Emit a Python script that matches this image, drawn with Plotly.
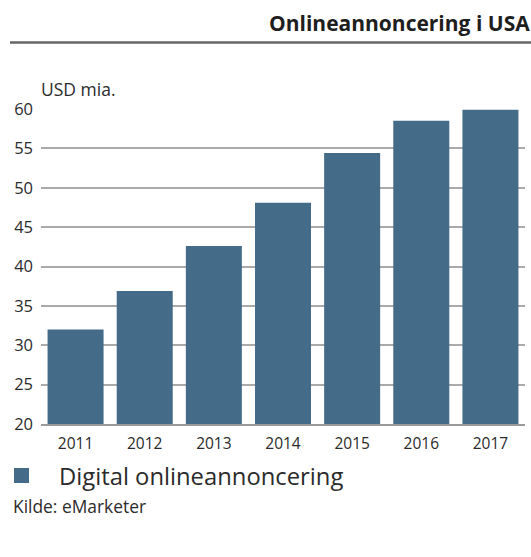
import plotly.graph_objects as go

# Digital onlineannoncering i USA, mia. USD
years = ["2011", "2012", "2013", "2014", "2015", "2016", "2017"]
spend = [32.0, 36.9, 42.6, 48.1, 54.4, 58.5, 59.9]
y_ticks = [20, 25, 30, 35, 40, 45, 50, 55, 60]

bar_color = "#446b88"
text_color = "#2b2b2b"
font_family = "Open Sans, Lato, sans-serif"

W, H = 531, 557
ml, mr, mt, mb = 41, 6, 109, 133

fig = go.Figure()
fig.add_trace(go.Bar(x=years, y=spend, marker=dict(color=bar_color, line=dict(width=0)),
                     showlegend=False))

fig.update_layout(
    width=W, height=H,
    margin=dict(l=ml, r=mr, t=mt, b=mb),
    plot_bgcolor="white", paper_bgcolor="white",
    bargap=0.19,
    font=dict(family=font_family, color=text_color, size=15),
    xaxis=dict(showgrid=False, showline=True, linecolor="#9a9a9a", linewidth=2,
               ticks="", tickfont=dict(size=15.5), ticklabelstandoff=4),
    yaxis=dict(range=[20, 60], tickvals=y_ticks, showgrid=True, gridcolor="#aaaaaa",
               gridwidth=1.5, zeroline=False, showline=False, ticks="",
               tickfont=dict(size=16.5), ticklabelstandoff=7),
)

# helpers: pixel position on the page -> paper coordinates of the plot area
PW, PH = W - ml - mr, H - mt - mb


def px(x):
    return (x - ml) / PW


def py(y):
    return (H - mb - y) / PH


# title and rule
fig.add_annotation(text="<b>Onlineannoncering i USA</b>", xref="paper", yref="paper",
                   x=px(532), y=py(23), xanchor="right", yanchor="middle", showarrow=False,
                   font=dict(size=21, color="#1e1e1e"))
fig.add_shape(type="line", xref="paper", yref="paper", x0=px(10), x1=px(531),
              y0=py(42.5), y1=py(42.5), line=dict(color="#666666", width=2.5))

# unit label
fig.add_annotation(text="USD mia.", xref="paper", yref="paper", x=px(39), y=py(89),
                   xanchor="left", yanchor="middle", showarrow=False, font=dict(size=17.5))

# legend
fig.add_shape(type="rect", xref="paper", yref="paper", x0=px(14), x1=px(29),
              y0=py(468), y1=py(483), fillcolor=bar_color, line=dict(width=0))
fig.add_annotation(text="Digital onlineannoncering", xref="paper", yref="paper",
                   x=px(57), y=py(476), xanchor="left", yanchor="middle",
                   showarrow=False, font=dict(size=23.8))

# source
fig.add_annotation(text="Kilde: eMarketer", xref="paper", yref="paper", x=px(11),
                   y=py(506), xanchor="left", yanchor="middle", showarrow=False,
                   font=dict(size=17.4))

fig.write_html("out.html")
